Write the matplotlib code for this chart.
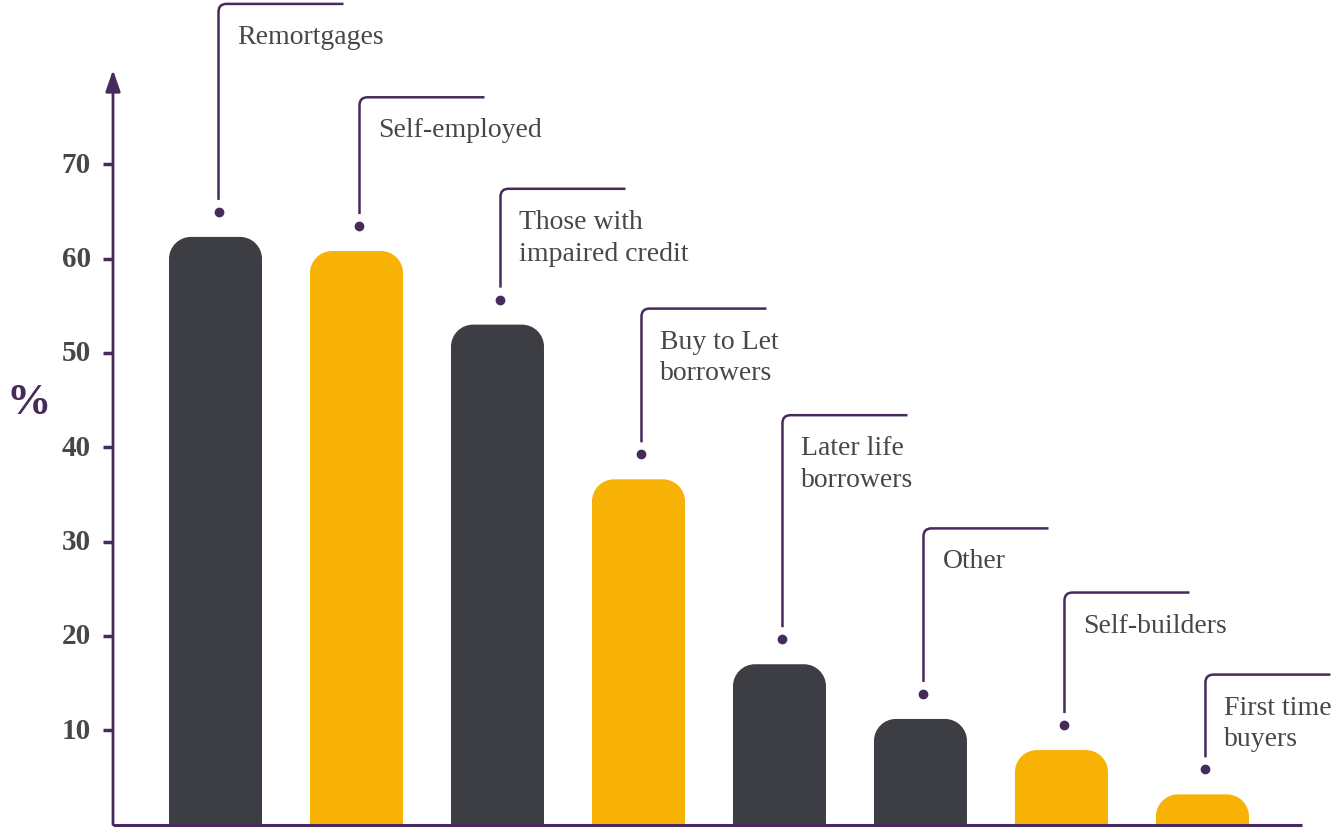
import numpy as np
import matplotlib.pyplot as plt
from matplotlib.path import Path
from matplotlib.patches import PathPatch

categories = ["Remortgages", "Self-employed", "Those with\nimpaired credit",
              "Buy to Let\nborrowers", "Later life\nborrowers", "Other",
              "Self-builders", "First time\nbuyers"]
values = [62.3, 60.8, 53.0, 36.6, 17.0, 11.2, 7.9, 3.2]
yticks = [10, 20, 30, 40, 50, 60, 70]

# layout of the callouts (height of the elbow in axis units)
callout_top = [87.0, 77.1, 67.4, 54.7, 43.4, 31.4, 24.6, 15.9]

DARK = "#3d3e43"
GOLD = "#f8b205"
PURPLE = "#472a5c"
TEXT = "#474747"
bar_colors = [DARK, GOLD, DARK, GOLD, DARK, DARK, GOLD, GOLD]

W_PX, H_PX = 1335, 829
fig = plt.figure(figsize=(W_PX / 100, H_PX / 100), dpi=100)
left, right, bottom, top = 113, 1302, 825.6, 0
ax = fig.add_axes([left / W_PX, (H_PX - bottom) / H_PX,
                   (right - left) / W_PX, (bottom - top) / H_PX])
xmin, xmax = -0.727, 7.706
ymax = 87.52
ax.set_xlim(xmin, xmax)
ax.set_ylim(0, ymax)
ax.axis("off")

# pixel -> data unit conversions
px_x = (xmax - xmin) / (right - left)
px_y = ymax / (bottom - top)


def rounded_bar(c, h, width, r_px):
    x0, x1 = c - width / 2, c + width / 2
    rx, ry = r_px * px_x, min(r_px * px_y, h)
    k = 0.5523
    verts = [(x0, 0), (x0, h - ry),
             (x0, h - ry + k * ry), (x0 + rx - k * rx, h), (x0 + rx, h),
             (x1 - rx, h),
             (x1 - rx + k * rx, h), (x1, h - ry + k * ry), (x1, h - ry),
             (x1, 0), (x0, 0)]
    codes = [Path.MOVETO, Path.LINETO,
             Path.CURVE4, Path.CURVE4, Path.CURVE4,
             Path.LINETO,
             Path.CURVE4, Path.CURVE4, Path.CURVE4,
             Path.LINETO, Path.CLOSEPOLY]
    return Path(verts, codes)


x = np.arange(len(values))
bar_w = 93 * px_x
for xi, v, col in zip(x, values, bar_colors):
    ax.add_patch(PathPatch(rounded_bar(xi, v, bar_w, 22), facecolor=col,
                           edgecolor="none", zorder=2))

# callouts: dot, vertical leader with a rounded elbow, label
for xi, v, t, lab in zip(x, values, callout_top, categories):
    lx = xi + 3 * px_x
    dot_y = v + 25 * px_y
    ax.plot(lx, dot_y, "o", ms=6, color=PURPLE, zorder=3, clip_on=False)
    rx, ry = 8 * px_x, 8 * px_y
    verts = [(lx, dot_y + 12 * px_y), (lx, t - ry), (lx, t), (lx + rx, t),
             (lx + 125 * px_x, t)]
    codes = [Path.MOVETO, Path.LINETO, Path.CURVE3, Path.CURVE3, Path.LINETO]
    ax.add_patch(PathPatch(Path(verts, codes), facecolor="none",
                           edgecolor=PURPLE, lw=1.8, capstyle="butt",
                           zorder=3, clip_on=False))
    ax.text(lx + 19 * px_x, t - 20 * px_y, lab, ha="left", va="top",
            fontsize=20, family="Liberation Serif", color=TEXT,
            linespacing=1.36, clip_on=False)

# y axis with arrow, x axis baseline
ax.plot([xmin, xmax], [0, 0], color=PURPLE, lw=2.2, clip_on=False,
        solid_capstyle="butt", zorder=4)
ax.annotate("", xy=(xmin, 80.0), xytext=(xmin, 0),
            arrowprops=dict(arrowstyle="-|>,head_length=1.3,head_width=0.45",
                            color=PURPLE, lw=2.0, shrinkA=0, shrinkB=0),
            annotation_clip=False, zorder=4)
for t in yticks:
    ax.plot([xmin - 10 * px_x, xmin], [t, t], color=PURPLE, lw=2.5,
            solid_capstyle="butt", clip_on=False)
    ax.text(xmin - 22 * px_x, t, str(t), ha="right", va="center",
            fontsize=21, fontweight="bold", family="Liberation Serif",
            color=TEXT, clip_on=False)

fig.text(29 / W_PX, 1 - 403 / H_PX, "%", ha="center", va="center",
         fontsize=32, fontweight="bold", family="Liberation Serif",
         color=PURPLE)

fig.savefig("out.png", dpi=100, facecolor="white")
